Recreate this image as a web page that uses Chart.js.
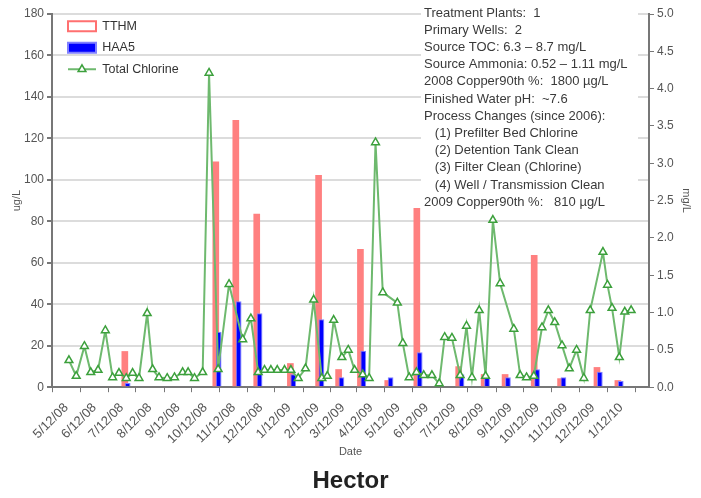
<!DOCTYPE html>
<html>
<head>
<meta charset="utf-8">
<script src="https://cdn.jsdelivr.net/npm/chart.js@4.4.1/dist/chart.umd.min.js"></script>
<style>
  html, body { margin: 0; padding: 0; background: #fff; }
</style>
</head>
<body>
<canvas id="myChart" width="701" height="498"></canvas>
<script>
// weekly total chlorine samples (mg/L, right axis)
const chlorineDates = ['5/15/2008','5/23/2008','6/1/2008','6/8/2008','6/16/2008','6/24/2008','7/2/2008','7/9/2008','7/17/2008','7/24/2008',
  '7/31/2008','8/9/2008','8/15/2008','8/22/2008','8/31/2008','9/8/2008','9/17/2008','9/23/2008','9/30/2008','10/9/2008',
  '10/16/2008','10/26/2008','11/7/2008','11/22/2008','12/1/2008','12/9/2008','12/16/2008','12/23/2008','12/30/2008','1/7/2009',
  '1/14/2009','1/22/2009','1/30/2009','2/8/2009','2/17/2009','2/23/2009','3/2/2009','3/11/2009','3/18/2009','3/25/2009',
  '4/3/2009','4/10/2009','4/17/2009','4/25/2009','5/11/2009','5/17/2009','5/24/2009','6/1/2009','6/9/2009','6/18/2009',
  '6/26/2009','7/2/2009','7/10/2009','7/19/2009','7/26/2009','8/1/2009','8/9/2009','8/16/2009','8/24/2009','9/1/2009',
  '9/16/2009','9/23/2009','9/30/2009','10/8/2009','10/17/2009','10/24/2009','10/31/2009','11/8/2009','11/16/2009','11/24/2009',
  '12/2/2009','12/9/2009','12/23/2009','12/28/2009','1/2/2010','1/10/2010','1/16/2010','1/23/2010'];
const chlorineValues = [0.36,0.15,0.55,0.20,0.23,0.76,0.13,0.19,0.12,0.19,
  0.12,0.99,0.24,0.13,0.12,0.13,0.20,0.20,0.12,0.20,
  4.21,0.24,1.38,0.64,0.92,0.20,0.23,0.23,0.23,0.23,
  0.23,0.12,0.25,1.17,0.12,0.15,0.90,0.40,0.50,0.23,
  0.17,0.12,3.28,1.27,1.13,0.59,0.13,0.20,0.16,0.16,
  0.05,0.67,0.66,0.16,0.82,0.13,1.03,0.15,2.24,1.39,
  0.78,0.16,0.13,0.15,0.80,1.03,0.87,0.56,0.25,0.50,
  0.12,1.03,1.81,1.37,1.06,0.40,1.01,1.03];

// DBP samples (ug/L, left axis)
const dbpDates = ['7/17/2008','10/25/2008','11/16/2008','12/9/2008','1/15/2009','2/15/2009','3/9/2009','4/2/2009','5/2/2009',
  '6/3/2009','7/19/2009','8/16/2009','9/8/2009','10/10/2009','11/8/2009','12/18/2009','1/10/2010'];
const tthmValues = [17.4,108.8,128.9,83.6,11.6,102.4,8.7,66.7,3.4,86.4,10.1,6.3,6.3,63.8,4.3,9.7,3.4];
const haa5Values = [2.0,26.7,41.5,35.7,6.3,32.8,4.8,17.6,4.8,16.9,6.3,4.8,4.8,8.7,4.8,7.5,3.0];

const tickLabels = ['5/12/08','6/12/08','7/12/08','8/12/08','9/12/08','10/12/08','11/12/08','12/12/08','1/12/09','2/12/09',
  '3/12/09','4/12/09','5/12/09','6/12/09','7/12/09','8/12/09','9/12/09','10/12/09','11/12/09','12/12/09','1/12/10'];
const axisStart = '5/12/08';
const axisEnd = '1/27/10';

const notes = [
  'Treatment Plants:  1',
  'Primary Wells:  2',
  'Source TOC: 6.3 \u2013 8.7 mg/L',
  'Source Ammonia: 0.52 \u2013 1.11 mg/L',
  '2008 Copper90th %:  1800 \u00b5g/L',
  'Finished Water pH:  ~7.6',
  'Process Changes (since 2006):',
  '   (1) Prefilter Bed Chlorine',
  '   (2) Detention Tank Clean',
  '   (3) Filter Clean (Chlorine)',
  '   (4) Well / Transmission Clean',
  '2009 Copper90th %:   810 \u00b5g/L'
];

function toDay(s) {
  const [m, d, y] = s.split('/').map(Number);
  const yr = y < 100 ? 2000 + y : y;
  return Date.UTC(yr, m - 1, d) / 86400000;
}

const lineColor = 'rgb(110,185,110)';
const markerColor = 'rgb(60,160,60)';

Chart.defaults.font.family = '"Liberation Sans", Arial, sans-serif';

// TTHM drawn first so HAA5 overlaps it
const barOrder = {
  id: 'barOrder',
  beforeDatasetsDraw(chart) {
    chart.getDatasetMeta(0).controller.draw();
  },
  beforeDatasetDraw(chart, args) {
    if (args.index === 0) return false;
  }
};

// legend sits a bit inside the plot
const legendShift = {
  id: 'legendShift',
  afterLayout(chart) {
    const lg = chart.legend;
    lg.left += 7; lg.right += 7;
    lg.top += 11; lg.bottom += 11;
  }
};

const notesBox = {
  id: 'notesBox',
  beforeDatasetsDraw(chart) {
    const ctx = chart.ctx;
    const a = chart.chartArea;
    const x = a.right - 228;
    ctx.save();
    ctx.fillStyle = '#fff';
    ctx.fillRect(x, 3, 217, 205);
    ctx.fillStyle = '#3a3a3a';
    ctx.font = '13px "Liberation Sans", Arial, sans-serif';
    ctx.textBaseline = 'middle';
    notes.forEach((t, i) => ctx.fillText(t, x + 3, 13 + i * 17.2));
    ctx.restore();
  }
};

const legendMarker = {
  id: 'legendMarker',
  afterDraw(chart) {
    const hb = chart.legend.legendHitBoxes[2];
    if (!hb) return;
    const ctx = chart.ctx;
    const cy = hb.top + hb.height / 2;
    ctx.save();
    ctx.strokeStyle = lineColor;
    ctx.lineWidth = 2;
    ctx.beginPath();
    ctx.moveTo(hb.left, cy);
    ctx.lineTo(hb.left + 28, cy);
    ctx.stroke();
    ctx.fillStyle = '#fff';
    ctx.strokeStyle = markerColor;
    ctx.lineWidth = 1.5;
    Chart.helpers.drawPoint(ctx, { pointStyle: 'triangle', radius: 4.5, borderWidth: 1.5 }, hb.left + 14, cy);
    ctx.restore();
  }
};

const ctx = document.getElementById('myChart').getContext('2d');

new Chart(ctx, {
  data: {
    datasets: [{
      type: 'bar',
      label: 'TTHM',
      data: dbpDates.map((d, i) => ({ x: toDay(d), y: tthmValues[i] })),
      backgroundColor: '#ff8080',
      borderWidth: 0,
      categoryPercentage: 0.286,
      barPercentage: 2.33,
      yAxisID: 'y',
      order: 2
    }, {
      type: 'bar',
      label: 'HAA5',
      data: dbpDates.map((d, i) => ({ x: toDay(d), y: haa5Values[i] })),
      backgroundColor: '#0000ff',
      borderColor: '#8080ff',
      borderWidth: 1,
      categoryPercentage: 0.286,
      barPercentage: 2.0,
      yAxisID: 'y',
      order: 2
    }, {
      type: 'line',
      label: 'Total Chlorine',
      data: chlorineDates.map((d, i) => ({ x: toDay(d), y: chlorineValues[i] })),
      borderColor: lineColor,
      borderWidth: 2,
      pointStyle: 'triangle',
      pointRadius: 4.5,
      pointBackgroundColor: '#fff',
      pointBorderColor: markerColor,
      pointBorderWidth: 1.5,
      tension: 0,
      yAxisID: 'y2',
      order: 1
    }]
  },
  options: {
    responsive: false,
    animation: false,
    devicePixelRatio: 1,
    layout: { padding: { top: 14, left: 0, right: 0, bottom: 0 } },
    scales: {
      x: {
        type: 'linear',
        min: toDay(axisStart),
        max: toDay(axisEnd),
        afterBuildTicks: s => { s.ticks = tickLabels.map(t => ({ value: toDay(t) })); },
        ticks: {
          autoSkip: false, maxRotation: 45, minRotation: 45, padding: 8,
          color: '#555', font: { size: 13 },
          callback: (v, i) => tickLabels[i]
        },
        grid: { drawOnChartArea: false, tickLength: 5, tickColor: '#777' },
        border: { color: '#777', width: 2 },
        title: { display: true, text: 'Date', color: '#555', font: { size: 11 }, padding: { top: 0, bottom: 7 } },
        afterFit: s => { s.height = 78; s.paddingLeft = 0; s.paddingRight = 0; }
      },
      y: {
        position: 'left',
        min: 0, max: 180,
        ticks: { stepSize: 20, color: '#555', font: { size: 12 }, padding: 3 },
        grid: { color: '#dcdcdc', lineWidth: 2, tickLength: 5, tickColor: '#777' },
        border: { color: '#777', width: 2 },
        title: { display: true, text: 'ug/L', color: '#555', font: { size: 11 }, padding: { top: 10, bottom: 0 } },
        afterFit: s => { s.width = 52; }
      },
      y2: {
        position: 'right',
        min: 0, max: 5,
        ticks: { stepSize: 0.5, color: '#555', font: { size: 12 }, padding: 3, callback: v => v.toFixed(1) },
        grid: { drawOnChartArea: false, tickLength: 5, tickColor: '#777' },
        border: { color: '#777', width: 2 },
        title: { display: true, text: 'mg/L', color: '#555', font: { size: 11 }, padding: { top: 8, bottom: 0 } },
        afterFit: s => { s.width = 52; }
      }
    },
    plugins: {
      legend: {
        position: 'chartArea',
        align: 'start',
        labels: {
          boxWidth: 28, boxHeight: 10, padding: 9,
          color: '#333', font: { size: 12.5 },
          sort: (a, b) => a.datasetIndex - b.datasetIndex,
          generateLabels: chart => {
            const items = Chart.defaults.plugins.legend.labels.generateLabels(chart);
            items.forEach(it => {
              if (it.datasetIndex === 0) { it.fillStyle = '#fff'; it.strokeStyle = '#ff7070'; it.lineWidth = 2; }
              if (it.datasetIndex === 1) { it.fillStyle = '#0000ff'; it.strokeStyle = '#8080ff'; it.lineWidth = 2; }
              if (it.datasetIndex === 2) { it.fillStyle = 'rgba(0,0,0,0)'; it.strokeStyle = 'rgba(0,0,0,0)'; it.lineWidth = 0; }
            });
            return items;
          }
        }
      },
      title: {
        display: true, position: 'bottom', text: 'Hector', color: '#222',
        font: { size: 24, weight: 'bold' }, padding: { top: 2, bottom: 2 }
      },
      tooltip: { enabled: false }
    }
  },
  plugins: [barOrder, legendShift, notesBox, legendMarker]
});
</script>
</body>
</html>
